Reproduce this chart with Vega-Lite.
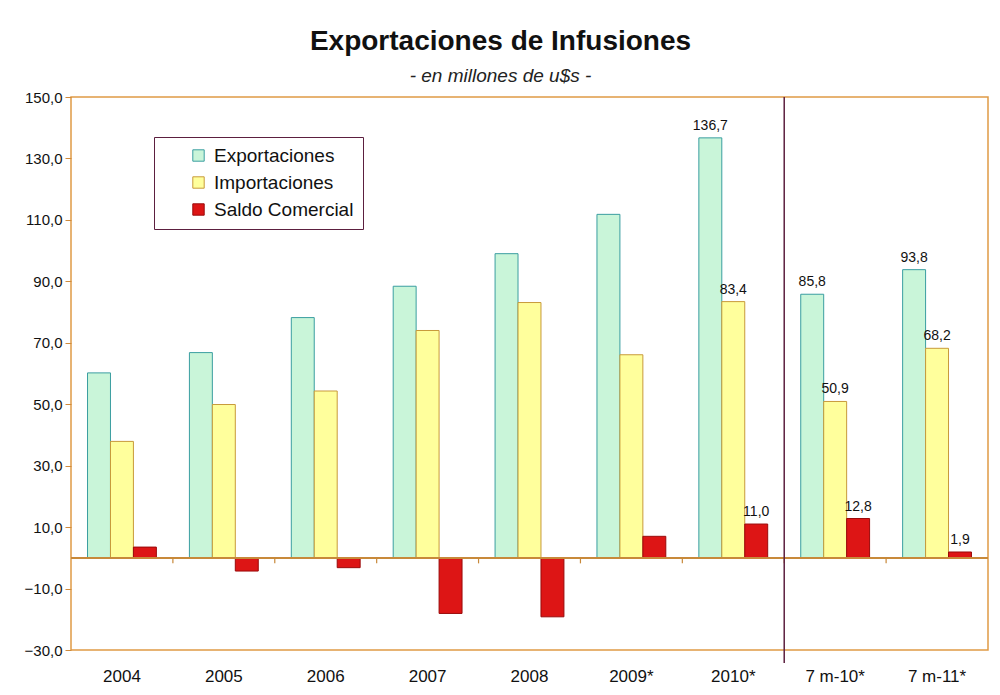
{
  "$schema": "https://vega.github.io/schema/vega-lite/v6.json",
  "width": 917,
  "height": 553,
  "autosize": {"type": "none"},
  "padding": {"left": 71, "top": 97, "right": 12, "bottom": 45},
  "background": "white",
  "config": {
    "locale": {"number": {"decimal": ",", "thousands": ".", "grouping": [3], "currency": ["$", ""]}},
    "font": "Liberation Sans",
    "view": {"stroke": "#e09a45", "strokeWidth": 1.5},
    "axisX": {"domain": false, "ticks": false, "grid": false, "labelPadding": 18, "labelFontSize": 17, "labelAngle": 0, "labelColor": "#111111"},
    "axisY": {"domain": false, "grid": false, "ticks": true, "tickColor": "#d08a3a", "tickSize": 6, "labelPadding": 3, "labelFontSize": 15, "labelColor": "#111111"}
  },
  "title": {
    "text": "Exportaciones de Infusiones",
    "subtitle": "- en millones de u$s -",
    "fontSize": 28,
    "fontWeight": "bold",
    "color": "#111111",
    "subtitleFontSize": 19,
    "subtitleFontStyle": "italic",
    "subtitleColor": "#222222",
    "subtitlePadding": 11,
    "anchor": "middle",
    "dx": -29,
    "offset": 4
  },
  "data": {
    "values": [
      {"cat": "2004", "serie": "Exportaciones", "valor": 60.2},
      {"cat": "2004", "serie": "Importaciones", "valor": 37.9},
      {"cat": "2004", "serie": "Saldo Comercial", "valor": 3.5},
      {"cat": "2005", "serie": "Exportaciones", "valor": 66.8},
      {"cat": "2005", "serie": "Importaciones", "valor": 49.9},
      {"cat": "2005", "serie": "Saldo Comercial", "valor": -4.3},
      {"cat": "2006", "serie": "Exportaciones", "valor": 78.2},
      {"cat": "2006", "serie": "Importaciones", "valor": 54.3},
      {"cat": "2006", "serie": "Saldo Comercial", "valor": -3.2},
      {"cat": "2007", "serie": "Exportaciones", "valor": 88.4},
      {"cat": "2007", "serie": "Importaciones", "valor": 74.0},
      {"cat": "2007", "serie": "Saldo Comercial", "valor": -18.1},
      {"cat": "2008", "serie": "Exportaciones", "valor": 99.0},
      {"cat": "2008", "serie": "Importaciones", "valor": 83.1},
      {"cat": "2008", "serie": "Saldo Comercial", "valor": -19.2},
      {"cat": "2009*", "serie": "Exportaciones", "valor": 111.8},
      {"cat": "2009*", "serie": "Importaciones", "valor": 66.1},
      {"cat": "2009*", "serie": "Saldo Comercial", "valor": 7.0},
      {"cat": "2010*", "serie": "Exportaciones", "valor": 136.7},
      {"cat": "2010*", "serie": "Importaciones", "valor": 83.4},
      {"cat": "2010*", "serie": "Saldo Comercial", "valor": 11.0},
      {"cat": "7 m-10*", "serie": "Exportaciones", "valor": 85.8},
      {"cat": "7 m-10*", "serie": "Importaciones", "valor": 50.9},
      {"cat": "7 m-10*", "serie": "Saldo Comercial", "valor": 12.8},
      {"cat": "7 m-11*", "serie": "Exportaciones", "valor": 93.8},
      {"cat": "7 m-11*", "serie": "Importaciones", "valor": 68.2},
      {"cat": "7 m-11*", "serie": "Saldo Comercial", "valor": 1.9}
    ]
  },
  "layer": [
    {
      "mark": {"type": "bar", "strokeWidth": 1},
      "encoding": {
        "x": {"field": "cat", "type": "nominal", "sort": null, "title": null,
              "scale": {"paddingInner": 0, "paddingOuter": 0}},
        "xOffset": {"field": "serie", "type": "nominal",
                    "scale": {"domain": ["Exportaciones", "Importaciones", "Saldo Comercial"], "paddingInner": 0, "paddingOuter": 0.72}},
        "y": {"field": "valor", "type": "quantitative", "title": null,
              "scale": {"domain": [-30, 150], "nice": false, "zero": false},
              "axis": {"values": [-30, -10, 10, 30, 50, 70, 90, 110, 130, 150], "format": ".1f"}},
        "fill": {"field": "serie", "type": "nominal", "title": null,
                 "scale": {"domain": ["Exportaciones", "Importaciones", "Saldo Comercial"], "range": ["#c9f5d9", "#ffff9c", "#dd1515"]},
                 "legend": {"orient": "none", "legendX": 83, "legendY": 40, "strokeColor": "#5c1f3f", "fillColor": "white",
                            "padding": 9, "symbolType": "square", "symbolSize": 130, "symbolStrokeWidth": 1,
                            "symbolOffset": 26, "labelOffset": 6, "labelFontSize": 19, "labelColor": "#111111", "rowPadding": 7}},
        "stroke": {"field": "serie", "type": "nominal", "title": null,
                   "scale": {"domain": ["Exportaciones", "Importaciones", "Saldo Comercial"], "range": ["#3a9ea0", "#c89a3a", "#9a0a0a"]}}
      }
    },
    {
      "mark": {"type": "rule", "color": "#c8893a", "strokeWidth": 1.5},
      "encoding": {"y": {"datum": 0}}
    },
    {
      "transform": [{"filter": "datum.serie === 'Exportaciones' && datum.cat !== '2004'"}],
      "mark": {"type": "rule", "color": "#c8893a", "strokeWidth": 1.2},
      "encoding": {
        "x": {"field": "cat", "type": "nominal", "sort": null, "bandPosition": 0, "title": null},
        "y": {"datum": 0},
        "y2": {"datum": -1.8}
      }
    },
    {
      "transform": [{"filter": "datum.serie === 'Exportaciones' && datum.cat === '7 m-10*'"}],
      "mark": {"type": "rule", "color": "#5c1f3f", "strokeWidth": 1.5},
      "encoding": {
        "x": {"field": "cat", "type": "nominal", "sort": null, "bandPosition": 0, "title": null},
        "y": {"datum": 150},
        "y2": {"datum": -34.2}
      }
    },
    {
      "transform": [{"filter": {"field": "cat", "oneOf": ["2010*", "7 m-10*", "7 m-11*"]}}],
      "mark": {"type": "text", "baseline": "bottom", "align": "center", "dy": -5, "fontSize": 14, "color": "#111111"},
      "encoding": {
        "x": {"field": "cat", "type": "nominal", "sort": null, "title": null},
        "xOffset": {"field": "serie", "type": "nominal"},
        "y": {"field": "valor", "type": "quantitative", "title": null},
        "text": {"field": "valor", "type": "quantitative", "format": ".1f"}
      }
    }
  ]
}
